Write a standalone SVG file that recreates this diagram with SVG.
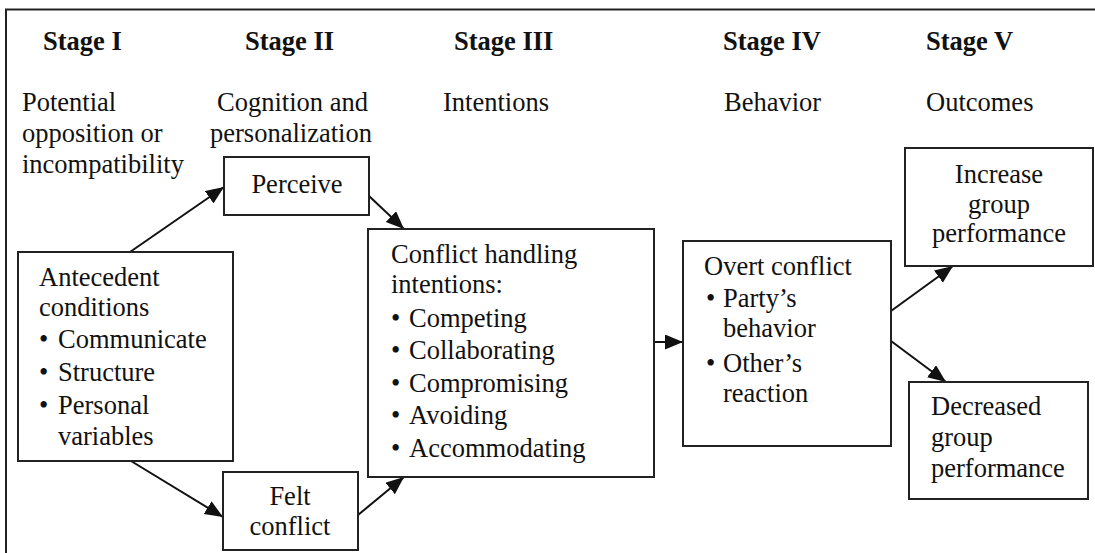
<svg xmlns="http://www.w3.org/2000/svg" width="1095" height="553" viewBox="0 0 1095 553">
<style>
text{font-family:"Liberation Serif","Times New Roman",serif;font-size:26.5px;fill:#111}
.h{font-weight:bold}
.c{text-anchor:middle}
.box{fill:#fff;stroke:#222;stroke-width:2}
.frame{fill:none;stroke:#222;stroke-width:2}
.edge{fill:none;stroke:#111;stroke-width:2}
</style>
<defs>
<marker id="arr" markerUnits="userSpaceOnUse" markerWidth="22" markerHeight="18" refX="18" refY="7.5" orient="auto">
<path d="M0,0 L18,7.5 L0,15 Z" fill="#111"/>
</marker>
</defs>
<path class="frame" d="M6,553 L6,9.5 L1095,9.5"/>
<g id="headers">
<text class="h" x="43" y="50">Stage I</text>
<text class="h" x="245" y="50">Stage II</text>
<text class="h" x="454" y="50">Stage III</text>
<text class="h" x="723" y="50">Stage IV</text>
<text class="h" x="926" y="50">Stage V</text>
<text x="22" y="111">Potential</text>
<text x="22" y="142">opposition or</text>
<text x="22" y="173">incompatibility</text>
<text x="217" y="111">Cognition and</text>
<text x="210" y="142">personalization</text>
<text x="443" y="111">Intentions</text>
<text x="724" y="111">Behavior</text>
<text x="926" y="111">Outcomes</text>
</g>
<g id="connectors">
<line class="edge" x1="130" y1="252" x2="224" y2="187" marker-end="url(#arr)"/>
<line class="edge" x1="369" y1="196" x2="404" y2="229" marker-end="url(#arr)"/>
<line class="edge" x1="131" y1="461" x2="223" y2="517" marker-end="url(#arr)"/>
<line class="edge" x1="358" y1="515" x2="404" y2="477" marker-end="url(#arr)"/>
<line class="edge" x1="654" y1="342" x2="683" y2="342" marker-end="url(#arr)"/>
<line class="edge" x1="891" y1="311" x2="953" y2="266" marker-end="url(#arr)"/>
<line class="edge" x1="891" y1="341" x2="946" y2="382" marker-end="url(#arr)"/>
</g>
<g id="perceive">
<rect class="box" x="224" y="157" width="145" height="58"/>
<text class="c" x="297" y="193">Perceive</text>
</g>
<g id="antecedent">
<rect class="box" x="18" y="252" width="215" height="209"/>
<text x="39" y="286">Antecedent</text>
<text x="39" y="316">conditions</text>
<text x="39" y="348">•</text><text x="58" y="348">Communicate</text>
<text x="39" y="381">•</text><text x="58" y="381">Structure</text>
<text x="39" y="414">•</text><text x="58" y="414">Personal</text>
<text x="58" y="445">variables</text>
</g>
<g id="felt">
<rect class="box" x="223" y="472" width="135" height="78"/>
<text class="c" x="290" y="505">Felt</text>
<text class="c" x="290" y="535">conflict</text>
</g>
<g id="intentions">
<rect class="box" x="368" y="229" width="286" height="248"/>
<text x="391" y="263">Conflict handling</text>
<text x="391" y="293">intentions:</text>
<text x="391" y="327">•</text><text x="409" y="327">Competing</text>
<text x="391" y="359">•</text><text x="409" y="359">Collaborating</text>
<text x="391" y="392">•</text><text x="409" y="392">Compromising</text>
<text x="391" y="424">•</text><text x="409" y="424">Avoiding</text>
<text x="391" y="457">•</text><text x="409" y="457">Accommodating</text>
</g>
<g id="overt">
<rect class="box" x="683" y="241" width="208" height="205"/>
<text x="704" y="275">Overt conflict</text>
<text x="706" y="307">•</text><text x="723" y="307">Party’s</text>
<text x="723" y="337">behavior</text>
<text x="706" y="372">•</text><text x="723" y="372">Other’s</text>
<text x="723" y="402">reaction</text>
</g>
<g id="increase">
<rect class="box" x="905" y="148" width="188" height="118"/>
<text class="c" x="999" y="183">Increase</text>
<text class="c" x="999" y="213">group</text>
<text class="c" x="999" y="242">performance</text>
</g>
<g id="decreased">
<rect class="box" x="909" y="382" width="179" height="117"/>
<text x="931" y="415">Decreased</text>
<text x="931" y="446">group</text>
<text x="931" y="477">performance</text>
</g>
</svg>
